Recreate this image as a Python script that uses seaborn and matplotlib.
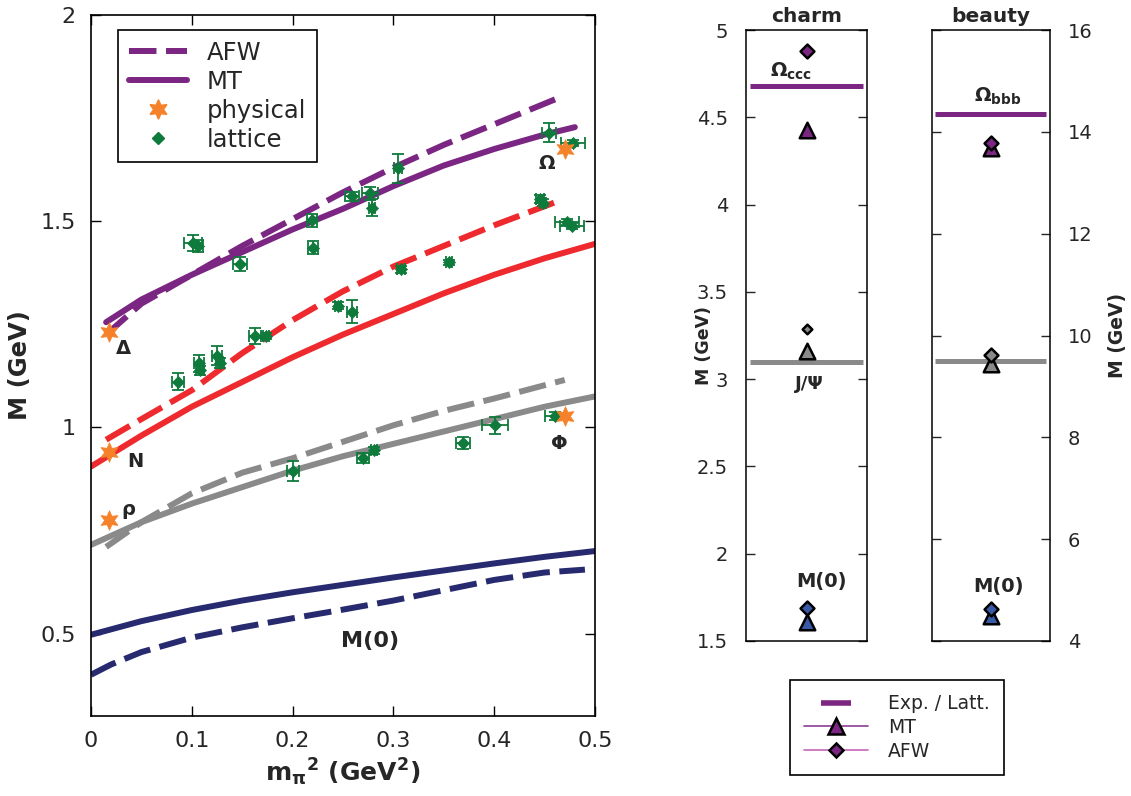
import numpy as np
import pandas as pd
import matplotlib
matplotlib.use("Agg")
import matplotlib.pyplot as plt
import matplotlib.ticker as mticker
from matplotlib.lines import Line2D
import seaborn as sns

# ---------------- data: left panel curves ----------------
omega_afw_x = [0.015, 0.05, 0.10, 0.15, 0.20, 0.25, 0.30, 0.35, 0.40, 0.465]
omega_afw_y = [1.225, 1.30, 1.37, 1.44, 1.505, 1.57, 1.63, 1.685, 1.735, 1.80]
omega_mt_x = [0.015, 0.05, 0.10, 0.15, 0.20, 0.25, 0.30, 0.35, 0.40, 0.45, 0.48]
omega_mt_y = [1.255, 1.31, 1.37, 1.425, 1.48, 1.53, 1.585, 1.635, 1.675, 1.71, 1.728]
nuc_afw_x = [0.015, 0.05, 0.10, 0.15, 0.20, 0.25, 0.30, 0.35, 0.40, 0.465]
nuc_afw_y = [0.97, 1.02, 1.09, 1.18, 1.26, 1.33, 1.39, 1.44, 1.49, 1.55]
nuc_mt_x = [0.0, 0.05, 0.10, 0.15, 0.20, 0.25, 0.30, 0.35, 0.40, 0.45, 0.50]
nuc_mt_y = [0.905, 0.98, 1.05, 1.11, 1.17, 1.225, 1.275, 1.325, 1.37, 1.41, 1.445]
rho_afw_x = [0.015, 0.05, 0.10, 0.15, 0.20, 0.25, 0.30, 0.35, 0.40, 0.47]
rho_afw_y = [0.71, 0.77, 0.84, 0.89, 0.925, 0.965, 1.005, 1.04, 1.07, 1.115]
rho_mt_x = [0.0, 0.05, 0.10, 0.15, 0.20, 0.25, 0.30, 0.35, 0.40, 0.45, 0.50]
rho_mt_y = [0.715, 0.77, 0.815, 0.855, 0.895, 0.93, 0.96, 0.99, 1.02, 1.05, 1.075]
m0_afw_x = [0.0, 0.02, 0.05, 0.10, 0.15, 0.20, 0.25, 0.30, 0.35, 0.40, 0.45, 0.49]
m0_afw_y = [0.40, 0.425, 0.455, 0.49, 0.515, 0.537, 0.558, 0.58, 0.605, 0.63, 0.648, 0.655]
m0_mt_x = [0.0, 0.05, 0.10, 0.15, 0.20, 0.25, 0.30, 0.35, 0.40, 0.45, 0.50]
m0_mt_y = [0.497, 0.53, 0.557, 0.58, 0.60, 0.618, 0.636, 0.653, 0.67, 0.686, 0.70]

# physical points
phys_x = [0.018, 0.018, 0.018, 0.470, 0.470]
phys_y = [1.232, 0.940, 0.775, 1.676, 1.027]
phys_labels = ["Δ", "N", "ρ", "Ω", "Φ"]
phys_label_x = [0.032, 0.044, 0.037, 0.452, 0.465]
phys_label_y = [1.191, 0.918, 0.800, 1.640, 0.961]

# lattice points
lat_x = [0.101, 0.106, 0.148, 0.219, 0.220, 0.259, 0.277, 0.279, 0.305, 0.308,
         0.355, 0.445, 0.448, 0.454, 0.478, 0.472, 0.477,
         0.086, 0.107, 0.108, 0.125, 0.128, 0.163, 0.174, 0.245, 0.259,
         0.200, 0.270, 0.281, 0.369, 0.401, 0.460]
lat_y = [1.447, 1.440, 1.397, 1.502, 1.436, 1.560, 1.568, 1.533, 1.628, 1.383,
         1.400, 1.553, 1.545, 1.715, 1.690, 1.498, 1.488,
         1.111, 1.155, 1.138, 1.174, 1.157, 1.222, 1.222, 1.295, 1.280,
         0.894, 0.925, 0.944, 0.962, 1.005, 1.027]
lat_xerr = [0.009, 0.005, 0.007, 0.005, 0.005, 0.007, 0.008, 0.003, 0.004, 0.004,
            0.003, 0.004, 0.003, 0.007, 0.012, 0.012, 0.012,
            0.006, 0.005, 0.004, 0.005, 0.004, 0.006, 0.003, 0.003, 0.005,
            0.006, 0.006, 0.003, 0.007, 0.013, 0.010]
lat_yerr = [0.020, 0.015, 0.017, 0.015, 0.016, 0.010, 0.016, 0.021, 0.035, 0.008,
            0.007, 0.010, 0.008, 0.024, 0.008, 0.008, 0.008,
            0.020, 0.020, 0.012, 0.023, 0.012, 0.020, 0.008, 0.008, 0.028,
            0.025, 0.012, 0.008, 0.014, 0.020, 0.010]

# ---------------- data: right panels ----------------
states = ["Ω", "J/Ψ", "M(0)"]
charm_exp = [4.68, 3.096]
charm_mt = [4.43, 3.16, 1.61]
charm_afw = [4.88, 3.29, 1.688]
beauty_exp = [14.36, 9.49]
beauty_mt = [13.69, 9.45, 4.49]
beauty_afw = [13.78, 9.62, 4.62]

# ---------------- style ----------------
PURPLE = "#7b2682"
RED = "#ee2a2e"
GRAY = "#8a8a8a"
NAVY = "#272a6e"
GREEN = "#0e7a3b"
ORANGE = "#f5822a"
BLUE = "#3a5aa8"
state_colors = [PURPLE, GRAY, BLUE]

sns.set_style("ticks", {"xtick.direction": "in", "ytick.direction": "in",
                        "axes.edgecolor": "black"})
plt.rcParams["font.family"] = ["DejaVu Sans"]
plt.rcParams["mathtext.fontset"] = "dejavusans"

fig = plt.figure(figsize=(11.31, 7.96), dpi=100)
W, H = 1131.0, 796.0
ax = fig.add_axes([91 / W, 1 - 716 / H, 504 / W, 701 / H])
ax_c = fig.add_axes([746 / W, 1 - 641 / H, 121 / W, 611 / H])
ax_b = fig.add_axes([931.7 / W, 1 - 641 / H, 118.3 / W, 611 / H])

# ---------------- left panel ----------------
rows = []
for cname, model, xs, ys in [
    ("omega", "AFW", omega_afw_x, omega_afw_y), ("omega", "MT", omega_mt_x, omega_mt_y),
    ("nuc", "AFW", nuc_afw_x, nuc_afw_y), ("nuc", "MT", nuc_mt_x, nuc_mt_y),
    ("rho", "AFW", rho_afw_x, rho_afw_y), ("rho", "MT", rho_mt_x, rho_mt_y),
    ("m0", "AFW", m0_afw_x, m0_afw_y), ("m0", "MT", m0_mt_x, m0_mt_y)]:
    for xv, yv in zip(xs, ys):
        rows.append({"x": xv, "M": yv, "curve": cname, "model": model})
df = pd.DataFrame(rows)
DASH = (4.6, 1.6)
sns.lineplot(data=df, x="x", y="M", hue="curve", style="model",
             palette={"omega": PURPLE, "nuc": RED, "rho": GRAY, "m0": NAVY},
             dashes={"AFW": DASH, "MT": ""}, linewidth=4.3,
             estimator=None, errorbar=None, legend=False, ax=ax, zorder=2)

ax.errorbar(lat_x, lat_y, xerr=lat_xerr, yerr=lat_yerr, fmt="none",
            ecolor=GREEN, elinewidth=1.3, capsize=4.5, capthick=1.3, zorder=3)
sns.scatterplot(x=lat_x, y=lat_y, marker="D", s=38, color=GREEN,
                edgecolor=GREEN, linewidth=0.5, ax=ax, zorder=4)
sns.scatterplot(x=phys_x, y=phys_y, marker=(6, 1, 0), s=200, color=ORANGE,
                edgecolor=ORANGE, linewidth=0.5, ax=ax, zorder=5)

for lab, lx, ly in zip(phys_labels, phys_label_x, phys_label_y):
    ax.text(lx, ly, lab, fontsize=14, fontweight="bold", ha="center", va="center")
ax.text(0.277, 0.483, "M(0)", fontsize=16, fontweight="bold", ha="center", va="center")

ax.set_xlim(0, 0.5)
ax.set_ylim(0.3, 2.0)
ax.set_xticks([0, 0.1, 0.2, 0.3, 0.4, 0.5])
ax.set_yticks([0.5, 1.0, 1.5, 2.0])
ax.xaxis.set_major_formatter(mticker.FormatStrFormatter("%g"))
ax.yaxis.set_major_formatter(mticker.FormatStrFormatter("%g"))
ax.tick_params(axis="both", which="both", direction="in", top=True, right=True,
               length=7, width=1.0, labelsize=16, pad=11, colors="black",
               labelcolor="#262626")
for sp in ax.spines.values():
    sp.set_linewidth(1.2)
    sp.set_color("black")
ax.set_xlabel(r"$\mathbf{m_{\pi}{}^{2}}$ (GeV$^{\mathbf{2}}$)", fontsize=18,
              fontweight="bold", labelpad=4)
ax.set_ylabel("M (GeV)", fontsize=17.5, fontweight="bold", labelpad=6)

handles = [
    Line2D([], [], color=PURPLE, lw=4.3, dashes=DASH),
    Line2D([], [], color=PURPLE, lw=4.3),
    Line2D([], [], ls="none", marker=(6, 1, 0), ms=14, color=ORANGE, mec=ORANGE),
    Line2D([], [], ls="none", marker="D", ms=6, color=GREEN, mec=GREEN),
]
leg = ax.legend(handles, ["AFW", "MT", "physical", "lattice"], loc="upper left",
                bbox_to_anchor=(0.0536, 0.9786), borderaxespad=0, fontsize=17.5,
                frameon=True, fancybox=False, edgecolor="black", framealpha=1,
                handlelength=2.4, handletextpad=0.8, labelspacing=0.2,
                borderpad=0.45)
leg.get_frame().set_linewidth(1.2)

# ---------------- right panels ----------------
def draw_panel(a, exp_vals, mt_vals, afw_vals, small_gray=False):
    for val, col in zip(exp_vals, state_colors[:2]):
        a.hlines(val, 0.03, 0.97, color=col, lw=3.6, zorder=2)
    for val, col in zip(mt_vals, state_colors):
        sns.scatterplot(x=[0.5], y=[val], marker="^", s=125, color=col,
                        edgecolor="black", linewidth=1.8, ax=a, zorder=3)
    for i, (val, col) in enumerate(zip(afw_vals, state_colors)):
        size = 24 if (small_gray and i == 1) else 50
        sns.scatterplot(x=[0.5], y=[val], marker="D", s=size, color=col,
                        edgecolor="black", linewidth=1.8, ax=a, zorder=4)
    a.set_xlim(0, 1)
    a.set_xticks([])
    a.set_xlabel("")
    for sp in a.spines.values():
        sp.set_linewidth(1.1)
        sp.set_color("black")

draw_panel(ax_c, charm_exp, charm_mt, charm_afw, small_gray=True)
draw_panel(ax_b, beauty_exp, beauty_mt, beauty_afw)

ax_c.set_ylim(1.5, 5.0)
ax_c.set_yticks(np.arange(1.5, 5.01, 0.5))
ax_c.yaxis.set_major_formatter(mticker.FormatStrFormatter("%g"))
ax_c.tick_params(axis="y", direction="in", left=True, right=True, labelleft=True,
                 labelright=False, length=6.5, width=1.0, labelsize=14, pad=13,
                 labelcolor="#262626")
ax_c.set_title("charm", fontsize=14.5, fontweight="bold", pad=6)
ax_c.set_ylabel("M (GeV)", fontsize=12.5, fontweight="bold")
ax_c.yaxis.set_label_coords(-0.27, 0.483)

ax_b.set_ylim(4, 16)
ax_b.set_yticks(np.arange(4, 16.01, 2))
ax_b.yaxis.set_major_formatter(mticker.FormatStrFormatter("%g"))
ax_b.tick_params(axis="y", direction="in", left=True, right=True, labelleft=False,
                 labelright=True, length=6.5, width=1.0, labelsize=14, pad=13,
                 labelcolor="#262626")
ax_b.set_title("beauty", fontsize=14.5, fontweight="bold", pad=6)
ax_b.yaxis.set_label_position("right")
ax_b.set_ylabel("M (GeV)", fontsize=13.5, fontweight="bold")
ax_b.yaxis.set_label_coords(1.49, 0.50)

ax_c.text(0.37, 4.765, r"$\mathbf{\Omega_{ccc}}$", fontsize=14, ha="center", va="center")
ax_c.text(0.52, 2.97, "J/Ψ", fontsize=13, fontweight="bold", ha="center", va="center")
ax_c.text(0.626, 1.838, "M(0)", fontsize=14, fontweight="bold", ha="center", va="center")
ax_b.text(0.56, 14.69, r"$\mathbf{\Omega_{bbb}}$", fontsize=14, ha="center", va="center")
ax_b.text(0.563, 5.07, "M(0)", fontsize=14, fontweight="bold", ha="center", va="center")

rhandles = [
    Line2D([], [], ls="none", marker="_", ms=22, mew=4, color=PURPLE),
    Line2D([], [], color="#8d3c92", lw=1.2, marker="^", ms=11, mfc=PURPLE,
           mec="black", mew=1.8),
    Line2D([], [], color="#c667b8", lw=1.2, marker="D", ms=7, mfc=PURPLE,
           mec="black", mew=1.8),
]
rleg = fig.legend(rhandles, ["Exp. / Latt.", "MT", "AFW"], loc="center",
                  bbox_to_anchor=(897 / W, 1 - 727.5 / H), fontsize=13.5,
                  frameon=True, fancybox=False, edgecolor="black", framealpha=1,
                  handlelength=3.4, handletextpad=1.07, labelspacing=0.26,
                  borderpad=0.75)
rleg.get_frame().set_linewidth(1.2)

fig.savefig("out.png", dpi=100)
